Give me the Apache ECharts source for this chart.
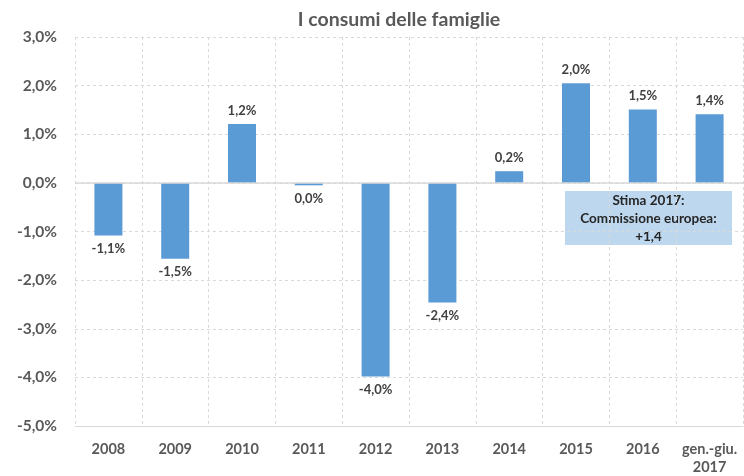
<!DOCTYPE html>
<html><head><meta charset="utf-8">
<script src="https://cdn.jsdelivr.net/npm/echarts@6/dist/echarts.min.js"></script>
<style>html,body{margin:0;padding:0;background:#fff}#c{width:744px;height:476px}</style>
</head><body><div id="c"></div>
<script>
const title = "I consumi delle famiglie";
const categories = ["2008","2009","2010","2011","2012","2013","2014","2015","2016","gen.-giu.\n2017"];
const values = [-1.08, -1.56, 1.21, -0.05, -3.98, -2.46, 0.24, 2.05, 1.51, 1.41];
const valueLabels = ["-1,1%","-1,5%","1,2%","0,0%","-4,0%","-2,4%","0,2%","2,0%","1,5%","1,4%"];
const yTicks = {min: -5, max: 3, interval: 1};
const noteText = "Stima 2017:\nCommissione europea:\n+1,4";

const FONT = "Lato, 'Open Sans', sans-serif";
const chart = echarts.init(document.getElementById('c'));
chart.setOption({
  animation: false,
  title: {text: title, left: 394, top: 5, textAlign: 'center',
    textStyle: {fontFamily: FONT, fontSize: 19.5, fontWeight: 'bold', color: '#595959'}},
  grid: {left: 75, right: 1, top: 37, bottom: 47},
  xAxis: {
    type: 'category', data: categories,
    axisLine: {onZero: false, lineStyle: {color: '#D9D9D9', width: 1}},
    axisTick: {show: false},
    splitLine: {show: true, lineStyle: {color: '#D9D9D9', type: [3, 3]}},
    axisLabel: {fontFamily: FONT, fontSize: 14.5, fontWeight: 'bold', color: '#595959', margin: 14, lineHeight: 18, interval: 0}
  },
  yAxis: {
    type: 'value', min: yTicks.min, max: yTicks.max, interval: yTicks.interval,
    axisLine: {show: false}, axisTick: {show: false},
    splitLine: {lineStyle: {color: '#D9D9D9', type: [3, 3]}},
    axisLabel: {fontFamily: FONT, fontSize: 15.5, fontWeight: 'bold', color: '#595959', margin: 18,
      formatter: v => v.toFixed(1).replace('.', ',') + '%'}
  },
  series: [{
    type: 'bar', barWidth: 28,
    data: values.map((v, i) => ({value: v, label: {position: v >= 0 ? 'top' : 'bottom', formatter: valueLabels[i]}})),
    itemStyle: {color: '#5B9BD5'},
    label: {show: true, distance: 7, fontFamily: FONT, fontSize: 13, fontWeight: 'bold', color: '#404040'},
    markLine: {silent: true, symbol: 'none', label: {show: false},
      lineStyle: {color: '#D9D9D9', type: 'solid', width: 1.5}, data: [{yAxis: 0}]}
  }],
  graphic: [{
    type: 'group', left: 565, top: 191,
    children: [
      {type: 'rect', shape: {x: 0, y: 0, width: 167, height: 54}, style: {fill: '#BDD7EE'}},
      {type: 'text', x: 83.5, y: 28, style: {text: noteText, align: 'center', verticalAlign: 'middle',
        fontFamily: FONT, fontSize: 13.5, fontWeight: 'bold', fill: '#262626', lineHeight: 18}}
    ]
  }]
});
</script></body></html>
